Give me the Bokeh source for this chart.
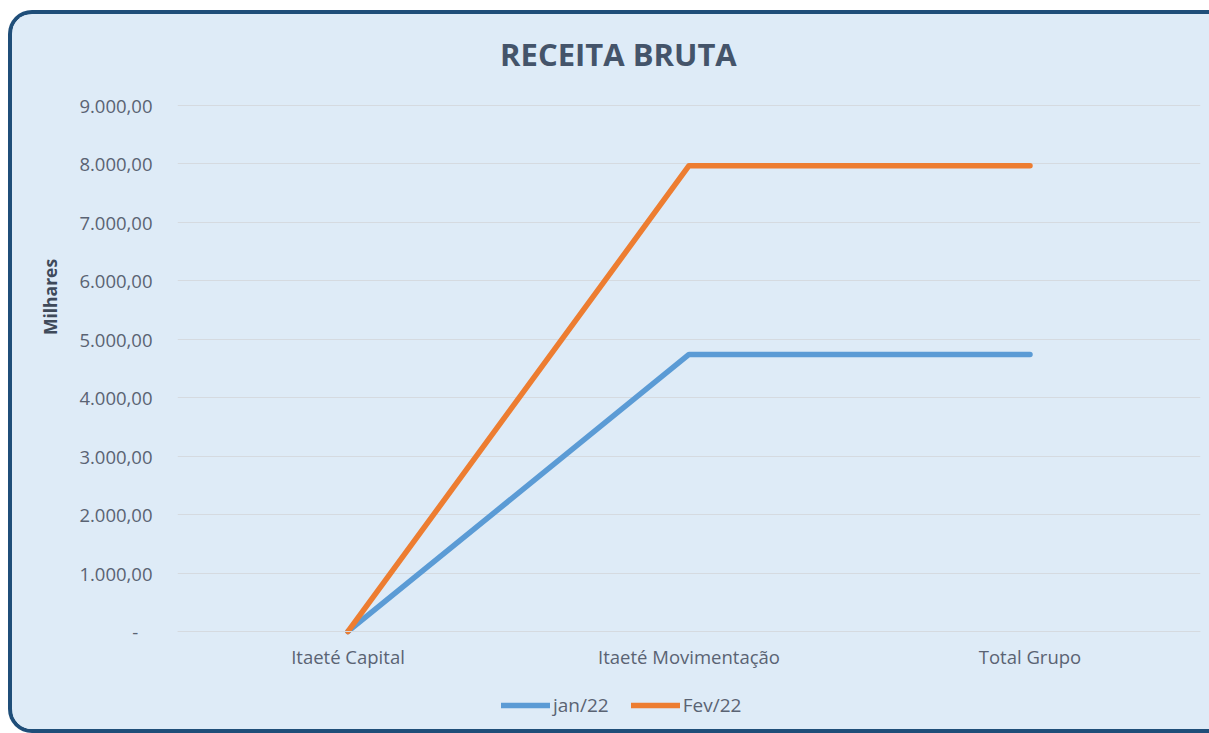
from bokeh.plotting import figure
from bokeh.models import (FactorRange, Range1d, FixedTicker, Legend, LegendItem,
                          Label, ColumnDataSource)
from bokeh.embed import file_html
from bokeh.resources import INLINE

# ---- data ----
CATEGORIES = ["Itaeté Capital", "Itaeté Movimentação", "Total Grupo"]
JAN22 = [0.0, 4740.0, 4740.0]
FEV22 = [0.0, 7970.0, 7970.0]
SERIES_NAMES = ["jan/22", "Fev/22"]
SERIES_COLORS = ["#5B9BD5", "#ED7D31"]
Y_TICKS = [0, 1000, 2000, 3000, 4000, 5000, 6000, 7000, 8000, 9000]
Y_LABELS = ["-\u00a0\u00a0\u00a0", "1.000,00", "2.000,00", "3.000,00", "4.000,00",
            "5.000,00", "6.000,00", "7.000,00", "8.000,00", "9.000,00"]
TITLE = "RECEITA BRUTA"
Y_TITLE = "Milhares"

# view extent (space above 9000 for the title, below 0 for labels and legend)
Y_VIEW_MIN, Y_VIEW_MAX = -1677, 10557

BG = "#DEEBF7"
TEXT = "#5A6373"
FONT = "Open Sans"
NBSP = "\u00a0"

p = figure(
    width=1201, height=723,
    x_range=FactorRange(*CATEGORIES, range_padding=0),
    y_range=Range1d(Y_VIEW_MIN, Y_VIEW_MAX),
    output_backend="svg", toolbar_location=None,
    min_border_left=165, min_border_right=13, min_border_top=0, min_border_bottom=8,
    background_fill_color=BG, border_fill_color=BG, outline_line_color=None,
)
p.styles = {
    "margin-left": "8px",
    "margin-top": "10px",
    "border-left": "4px solid #1F4E79",
    "border-top": "4px solid #1F4E79",
    "border-bottom": "4px solid #1F4E79",
    "border-top-left-radius": "24px",
    "border-bottom-left-radius": "24px",
    "overflow": "hidden",
    "background-color": BG,
}

src = ColumnDataSource(dict(cat=CATEGORIES, jan=JAN22, fev=FEV22))
r1 = p.line("cat", "jan", source=src, line_color=SERIES_COLORS[0], line_width=5.5,
            line_cap="round", line_join="round")
r2 = p.line("cat", "fev", source=src, line_color=SERIES_COLORS[1], line_width=5.5,
            line_cap="round", line_join="round")

# title (inside the frame, above the 9000 line)
p.add_layout(Label(x=1.293, y=9873, text=TITLE, text_align="center",
                   text_baseline="alphabetic", text_font=FONT, text_font_size="31px",
                   text_font_style="bold", text_color="#44546A"))

# y axis
p.yaxis.ticker = FixedTicker(ticks=Y_TICKS)
p.yaxis.major_label_overrides = {k: v for k, v in zip(Y_TICKS, Y_LABELS)}
p.yaxis.axis_line_color = None
p.yaxis.major_tick_line_color = None
p.yaxis.minor_tick_line_color = None
p.yaxis.major_tick_out = 0
p.yaxis.major_label_standoff = 25
p.yaxis.major_label_text_font = FONT
p.yaxis.major_label_text_font_size = "18.5px"
p.yaxis.major_label_text_color = TEXT
p.yaxis.axis_label = NBSP * 33 + Y_TITLE
p.yaxis.axis_label_text_font = FONT
p.yaxis.axis_label_text_font_size = "17.5px"
p.yaxis.axis_label_text_font_style = "bold"
p.yaxis.axis_label_text_color = "#3F4A5A"
p.yaxis.axis_label_standoff = 14

# x axis drawn at value 0
p.xaxis.fixed_location = 0
p.xaxis.axis_line_color = "#D5DAE0"
p.xaxis.major_tick_line_color = None
p.xaxis.minor_tick_line_color = None
p.xaxis.major_tick_out = 0
p.xaxis.major_label_standoff = 13
p.xaxis.major_label_text_font = FONT
p.xaxis.major_label_text_font_size = "18.5px"
p.xaxis.major_label_text_color = TEXT

p.xgrid.grid_line_color = None
p.ygrid.grid_line_color = "#D5DAE0"
p.ygrid.grid_line_width = 1

legend = Legend(items=[LegendItem(label=SERIES_NAMES[0], renderers=[r1]),
                       LegendItem(label=SERIES_NAMES[1], renderers=[r2])],
                orientation="horizontal", location=(324, 11),
                glyph_width=49, glyph_height=20, label_standoff=3, spacing=22,
                padding=0, margin=0, background_fill_alpha=0, border_line_color=None,
                label_text_font=FONT, label_text_font_size="19px", label_text_color=TEXT)
p.add_layout(legend)

open("out.html", "w").write(file_html(p, INLINE))
